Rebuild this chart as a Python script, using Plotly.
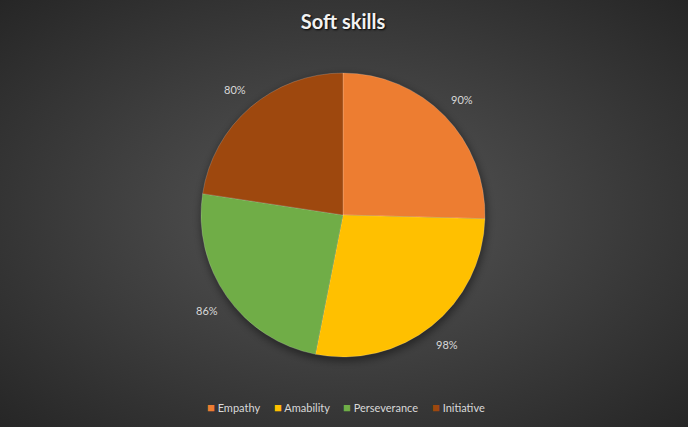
import base64
import math
import plotly.graph_objects as go

categories = ["Empathy", "Amability", "Perseverance", "Initiative"]
values = [90, 98, 86, 80]
colors = ["#ED7D31", "#FFC000", "#70AD47", "#9E480E"]
title_text = "Soft skills"

W, H = 688, 427
# pie geometry (pixels)
CX, CY, R = 343, 215, 142
LABEL_R = 166

svg = f'''<svg xmlns="http://www.w3.org/2000/svg" width="{W}" height="{H}" viewBox="0 0 {W} {H}" preserveAspectRatio="none">
<defs>
<radialGradient id="g" cx="50%" cy="50%" r="72%">
<stop offset="0%" stop-color="#575757"/>
<stop offset="100%" stop-color="#252525"/>
</radialGradient>
<filter id="b" x="-20%" y="-20%" width="140%" height="140%"><feGaussianBlur stdDeviation="4"/></filter>
</defs>
<rect width="{W}" height="{H}" fill="url(#g)"/>
<circle cx="{CX+1}" cy="{CY+3}" r="{R+1}" fill="#000" fill-opacity="0.45" filter="url(#b)"/>
</svg>'''
bg = "data:image/svg+xml;base64," + base64.b64encode(svg.encode()).decode()

fig = go.Figure(go.Pie(
    labels=categories,
    values=values,
    sort=False,
    direction="clockwise",
    rotation=0,
    marker=dict(colors=colors, line=dict(color="rgba(255,255,255,0.18)", width=1)),
    textinfo="none",
    hoverinfo="label+value",
    showlegend=False,
    domain=dict(x=[(CX - R) / W, (CX + R) / W], y=[1 - (CY + R) / H, 1 - (CY - R) / H]),
))

annotations = []
# data labels outside each slice, placed at the slice mid-angle
total = sum(values)
cum = 0
for v in values:
    mid = (cum + v / 2) / total * 2 * math.pi
    cum += v
    px = CX + LABEL_R * math.sin(mid)
    py = CY - LABEL_R * math.cos(mid)
    annotations.append(dict(text=f"{v}%", x=px / W, y=1 - py / H, xref="paper", yref="paper",
                            showarrow=False, xanchor="center", yanchor="middle",
                            font=dict(color="#d9d9d9", size=11, family="Lato")))

# legend
legend_x = [205, 272, 341, 430]
for name, col, lx in zip(categories, colors, legend_x):
    annotations.append(dict(text=f'<span style="color:{col};font-size:13px">■</span> {name}', x=lx / W, y=1 - 407 / H,
                            xref="paper", yref="paper", showarrow=False, xanchor="left", yanchor="middle",
                            font=dict(color="#d9d9d9", size=11, family="Lato")))

fig.update_layout(
    width=W, height=H,
    margin=dict(l=0, r=0, t=0, b=0),
    paper_bgcolor="#404040",
    plot_bgcolor="rgba(0,0,0,0)",
    title=dict(text="<b>" + title_text + "</b>", x=343 / W, xanchor="center", y=1 - 22 / H, yanchor="middle",
               font=dict(color="#f2f2f2", size=20, family="Lato", shadow="1px 1px 2px #000")),
    showlegend=False,
    annotations=annotations,
    images=[dict(source=bg, xref="paper", yref="paper", x=0, y=1, sizex=1, sizey=1,
                 sizing="stretch", layer="below", xanchor="left", yanchor="top")],
)

fig.write_html("out.html", config={"displayModeBar": False},
               post_script="document.body.style.margin='0';")
